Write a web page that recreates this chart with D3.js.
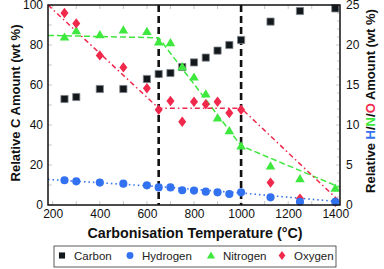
<!DOCTYPE html>
<html>
<head>
<meta charset="utf-8">
<script src="https://cdn.jsdelivr.net/npm/d3@7"></script>
<style>
  body { margin:0; background:#fff; }
  svg { font-family:"Liberation Sans", Arial, sans-serif; display:block; }
</style>
</head>
<body>
<svg id="chart" width="384" height="269"></svg>
<script>
// ===== DATA =====
const temps    = [250,300,400,500,600,650,700,750,800,850,900,950,1000,1125,1250,1400];
const carbon   = [53,54,58,58,63,65.5,66,69,71.3,73.7,77.2,80,82.5,91.7,97,98.3];
const hydrogen = [3.1,2.96,2.8,2.67,2.46,2.2,2.2,1.84,1.8,1.67,1.58,1.37,1.58,0.96,0.4,0.4];
const nitrogen = [21.0,21.8,21.3,21.9,21.7,20.4,20.3,17.3,16.0,13.9,10.9,9.3,7.4,4.9,3.3,2.1];
const oxygen   = [24.0,22.7,18.7,17.2,14.6,11.9,13.0,10.4,12.9,12.6,12.9,11.5,11.9,2.8,0.8,0.4];

// piecewise trend lines [temperature, value]
const trendH = [[180,3.2],[650,2.3],[1000,1.5],[1420,0.4]];
const trendN = [[180,21.2],[650,20.9],[1000,7.4],[1420,2.2]];
const trendO = [[180,25],[650,12.1],[1000,12.1],[1420,0.4]];
const vlines = [650,1000];

const xTicks  = [200,400,600,800,1000,1200,1400];
const yLTicks = [0,20,40,60,80,100];
const yRTicks = [0,5,10,15,20,25];
const legendNames = ["Carbon","Hydrogen","Nitrogen","Oxygen"];

const colors = { Carbon:"#13181c", Hydrogen:"#3272f0", Nitrogen:"#3ee83e", Oxygen:"#f0284c" };

// ===== SCALES =====
const svg = d3.select("#chart");
const L=48, R=340, T=5, B=205;
const x  = d3.scaleLinear().domain([180,1420]).range([L,R]);
const yL = d3.scaleLinear().domain([0,100]).range([B,T]);
const yR = d3.scaleLinear().domain([0,25]).range([B,T]);

// ===== MINOR / MAJOR TICKS (light, inward) =====
const tickCol = "#c8c8c8";
const g = svg.append("g");
d3.range(200,1401,100).forEach(v=>{
  g.append("line").attr("x1",x(v)).attr("x2",x(v)).attr("y1",B).attr("y2",B-4).attr("stroke",tickCol);
  g.append("line").attr("x1",x(v)).attr("x2",x(v)).attr("y1",T).attr("y2",T+4).attr("stroke",tickCol);
});
d3.range(0,101,10).forEach(v=>{
  g.append("line").attr("x1",L).attr("x2",L+4).attr("y1",yL(v)).attr("y2",yL(v)).attr("stroke",tickCol);
});
d3.range(0,26,1).forEach(v=>{
  g.append("line").attr("x1",R).attr("x2",R-(v%5===0?4:3)).attr("y1",yR(v)).attr("y2",yR(v)).attr("stroke",tickCol);
});

// ===== AXIS LABELS =====
const styleAxis = a=>{ a.select(".domain").remove(); a.selectAll("text").attr("font-size",12).attr("fill","#111").attr("font-family",null); };
svg.append("g").attr("transform",`translate(0,${B})`)
  .call(d3.axisBottom(x).tickValues(xTicks).tickFormat(d3.format("d")).tickSize(0).tickPadding(4))
  .call(styleAxis);
svg.append("g").attr("transform",`translate(${L},0)`)
  .call(d3.axisLeft(yL).tickValues(yLTicks).tickSize(0).tickPadding(5))
  .call(styleAxis);
svg.append("g").attr("transform",`translate(${R},0)`)
  .call(d3.axisRight(yR).tickValues(yRTicks).tickSize(0).tickPadding(6))
  .call(styleAxis);

// ===== VERTICAL DASHED LINES =====
svg.selectAll(".vl").data(vlines).enter().append("line")
  .attr("x1",d=>x(d)).attr("x2",d=>x(d)).attr("y1",T).attr("y2",B)
  .attr("stroke","#111").attr("stroke-width",2.6).attr("stroke-dasharray","7,4");

// ===== TREND LINES =====
const line = d3.line().x(d=>x(d[0])).y(d=>yR(d[1]));
svg.append("clipPath").attr("id","clip").append("rect")
  .attr("x",L).attr("y",T).attr("width",R-L).attr("height",B-T);
svg.append("path").datum(trendN).attr("d",line).attr("fill","none").attr("clip-path","url(#clip)")
  .attr("stroke",colors.Nitrogen).attr("stroke-width",1.5).attr("stroke-dasharray","6,3");
svg.append("path").datum(trendO).attr("d",line).attr("fill","none").attr("clip-path","url(#clip)")
  .attr("stroke",colors.Oxygen).attr("stroke-width",1.5).attr("stroke-dasharray","5,3,1.5,3");
svg.append("path").datum(trendH).attr("d",line).attr("fill","none").attr("clip-path","url(#clip)")
  .attr("stroke",colors.Hydrogen).attr("stroke-width",1.6).attr("stroke-dasharray","1.5,3");

// ===== MARKERS =====
const shapes = {
  Carbon:   "M-3.6,-3.6H3.6V3.6H-3.6Z",
  Hydrogen: d3.symbol(d3.symbolCircle,52)(),
  Nitrogen: "M0,-4.6L4.8,3.6L-4.8,3.6Z",
  Oxygen:   "M0,-5.2L4,0L0,5.2L-4,0Z"
};
function drawSeries(name, values, scale){
  svg.append("g").selectAll("path").data(values).enter().append("path")
    .attr("d",shapes[name])
    .attr("transform",(d,i)=>`translate(${x(temps[i])},${scale(d)})`)
    .attr("fill",colors[name])
    .attr("stroke",name==="Carbon"?"#80888e":"none").attr("stroke-width",0.8);
}
drawSeries("Carbon",carbon,yL);
drawSeries("Nitrogen",nitrogen,yR);
drawSeries("Oxygen",oxygen,yR);
drawSeries("Hydrogen",hydrogen,yR);

// ===== FRAME =====
svg.append("rect").attr("x",L).attr("y",T).attr("width",R-L).attr("height",B-T)
  .attr("fill","none").attr("stroke","#111").attr("stroke-width",1.5);

// ===== TITLES =====
svg.append("text").attr("x",195).attr("y",238).attr("text-anchor","middle")
  .attr("font-size",14.3).attr("font-weight","bold").attr("fill","#111")
  .text("Carbonisation Temperature (°C)");
svg.append("text").attr("transform",`translate(20,103) rotate(-90)`).attr("text-anchor","middle")
  .attr("font-size",13).attr("font-weight","bold").attr("fill","#111")
  .text("Relative C Amount (wt %)");
const rt = svg.append("text").attr("transform",`translate(375,101) rotate(-90)`).attr("text-anchor","middle")
  .attr("font-size",13).attr("font-weight","bold").attr("fill","#111");
rt.append("tspan").text("Relative ");
rt.append("tspan").attr("fill",colors.Hydrogen).text("H");
rt.append("tspan").text("/");
rt.append("tspan").attr("fill",colors.Nitrogen).text("N");
rt.append("tspan").text("/");
rt.append("tspan").attr("fill",colors.Oxygen).text("O");
rt.append("tspan").text(" Amount (wt %)");

// ===== LEGEND =====
const lg = svg.append("g");
lg.append("rect").attr("x",54).attr("y",246).attr("width",282).attr("height",21)
  .attr("fill","#fff").attr("stroke","#333").attr("stroke-width",0.8);
const legX = [62,130,211,282];
legendNames.forEach((n,i)=>{
  lg.append("path").attr("d",shapes[n]).attr("transform",`translate(${legX[i]},255.5) scale(0.85)`)
    .attr("fill",colors[n]);
  lg.append("text").attr("x",legX[i]+12).attr("y",259.5).attr("font-size",11.5).attr("fill","#222").text(n);
});
</script>
</body>
</html>
